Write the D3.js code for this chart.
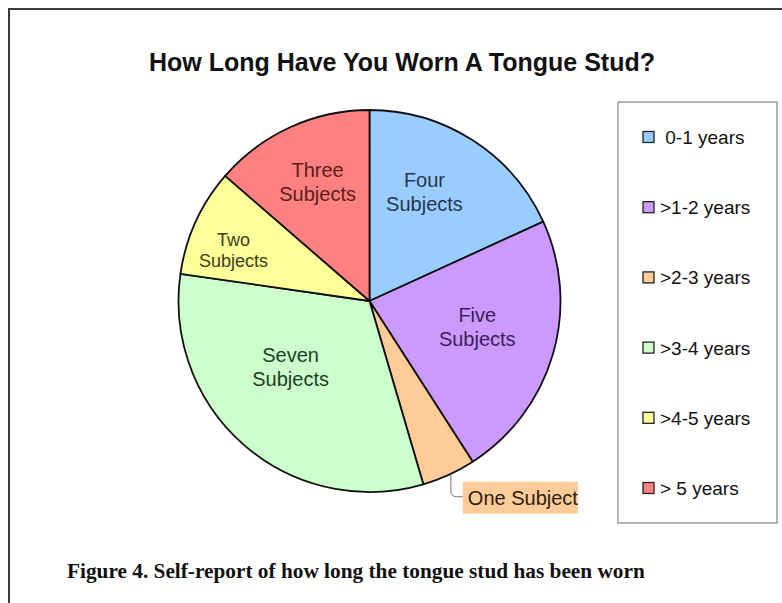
<!DOCTYPE html>
<html>
<head>
<meta charset="utf-8">
<script src="https://cdn.jsdelivr.net/npm/d3@7"></script>
<style>
  body { margin: 0; background: #fff; }
  svg { display: block; }
</style>
</head>
<body>
<div id="pie-div"></div>
<script>
// chart data
const categories = [" 0-1 years", ">1-2 years", ">2-3 years", ">3-4 years", ">4-5 years", "> 5 years"];
const subjects = [4, 5, 1, 7, 2, 3];
const sliceLabels = ["Four\nSubjects", "Five\nSubjects", "One Subject", "Seven\nSubjects", "Two\nSubjects", "Three\nSubjects"];

const fills = ["#99ccff", "#cc99ff", "#ffcc99", "#ccffcc", "#ffff99", "#ff8080"];
const inks = ["#28374f", "#3b1f5a", "#3a2a14", "#1f3d25", "#3c3c1a", "#5a1e1e"];

// per slice label nudge: [angle offset in degrees, radius fraction]
const labelNudge = [[-6, 0.64], [-3, 0.58], null, [9, 0.54], [-4, 0.76], [1, 0.68]];

const W = 782, H = 603;
const cx = 369.5, cy = 301, R = 191;

let svg = d3.select("#pie-div")
  .append("svg")
    .attr("width", W)
    .attr("height", H);

// outer frame (runs off the right and bottom edge)
svg.append("rect")
    .attr("x", 9).attr("y", 9)
    .attr("width", 800).attr("height", 620)
    .attr("fill", "none")
    .attr("stroke", "#3a3a3a")
    .attr("stroke-width", 2);

// title
svg.append("text")
    .text("How Long Have You Worn A Tongue Stud?")
    .attr("x", 402).attr("y", 71)
    .attr("text-anchor", "middle")
    .style("font", "bold 25px 'Liberation Sans', Arial, sans-serif")
    .attr("fill", "#111");

const pie = d3.pie().sort(null).value(d => d);
const arcs = pie(subjects);
const arc = d3.arc().innerRadius(0).outerRadius(R);

let g = svg.append("g")
    .attr("transform", `translate(${cx}, ${cy})`);

g.selectAll("path")
  .data(arcs)
  .join("path")
    .attr("d", arc)
    .attr("fill", (d, i) => fills[i])
    .attr("stroke", "#111")
    .attr("stroke-width", 1.8)
    .attr("stroke-linejoin", "round");

// labels inside the slices
arcs.forEach((d, i) => {
    const nudge = labelNudge[i];
    if (!nudge) return;
    const a = (d.startAngle + d.endAngle) / 2 + nudge[0] * Math.PI / 180;
    const r = R * nudge[1];
    const x = r * Math.sin(a), y = -r * Math.cos(a);
    const lines = sliceLabels[i].split("\n");
    const fs = subjects[i] == 2 ? 18 : 20;
    const lh = fs * 1.2;
    const t = g.append("text")
        .attr("text-anchor", "middle")
        .attr("fill", inks[i])
        .style("font", `${fs}px 'Liberation Sans', Arial, sans-serif`);
    lines.forEach((ln, k) => {
        t.append("tspan")
            .attr("x", x)
            .attr("y", y + (k - (lines.length - 1) / 2) * lh + fs * 0.35)
            .text(ln);
    });
});

// small slice: label outside with a leader line
const small = arcs[2];
const am = (small.startAngle + small.endAngle) / 2;
const px = R * Math.sin(am) + 2, py = -R * Math.cos(am);
const boxX = px + 12, boxY = py + 7;
g.append("path")
    .attr("d", `M${px},${py} L${px},${py + 16} Q${px},${py + 22} ${px + 6},${py + 22} L${boxX},${py + 22}`)
    .attr("fill", "none")
    .attr("stroke", "#777")
    .attr("stroke-width", 1);
g.append("rect")
    .attr("x", boxX).attr("y", boxY)
    .attr("width", 115).attr("height", 32)
    .attr("fill", fills[2]);
g.append("text")
    .text(sliceLabels[2])
    .attr("x", boxX + 5).attr("y", boxY + 23)
    .attr("fill", "#2a1e10")
    .style("font", "20px 'Liberation Sans', Arial, sans-serif");

// legend
let legend = svg.append("g");
legend.append("rect")
    .attr("x", 618).attr("y", 102)
    .attr("width", 159).attr("height", 421)
    .attr("fill", "#fff")
    .attr("stroke", "#9a9a9a")
    .attr("stroke-width", 1.5);

const ly = d3.scalePoint()
    .domain(categories)
    .range([137, 488]);

legend.selectAll(".sw")
  .data(categories)
  .join("rect")
    .attr("class", "sw")
    .attr("x", 643)
    .attr("y", d => ly(d) - 5.5)
    .attr("width", 11).attr("height", 11)
    .attr("fill", (d, i) => fills[i])
    .attr("stroke", "#222")
    .attr("stroke-width", 1.3);

legend.selectAll(".lt")
  .data(categories)
  .join("text")
    .attr("class", "lt")
    .attr("x", 660)
    .attr("y", d => ly(d) + 7)
    .text(d => d)
    .style("white-space", "pre")
    .attr("xml:space", "preserve")
    .attr("fill", "#111")
    .style("font", "19px 'Liberation Sans', Arial, sans-serif");

// caption
svg.append("text")
    .text("Figure 4. Self-report of how long the tongue stud has been worn")
    .attr("x", 67).attr("y", 578)
    .attr("fill", "#111")
    .style("font", "bold 21.3px 'Liberation Serif', 'Times New Roman', serif");
</script>
</body>
</html>
